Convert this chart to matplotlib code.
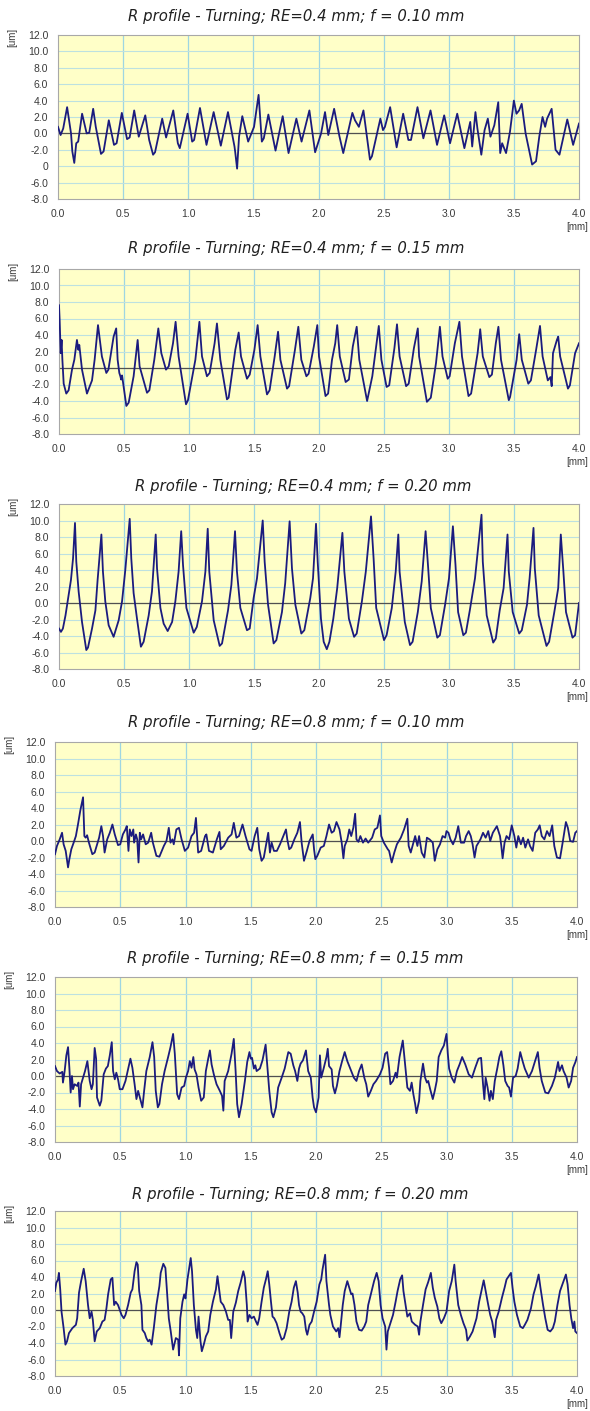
#draws six R profile charts (turning, RE / feed variants)
#profile values, x in mm, y in um

import numpy as np
import matplotlib.pyplot as plt

titles = ['R profile - Turning; RE=0.4 mm; f = 0.10 mm',
          'R profile - Turning; RE=0.4 mm; f = 0.15 mm',
          'R profile - Turning; RE=0.4 mm; f = 0.20 mm',
          'R profile - Turning; RE=0.8 mm; f = 0.10 mm',
          'R profile - Turning; RE=0.8 mm; f = 0.15 mm',
          'R profile - Turning; RE=0.8 mm; f = 0.20 mm']

x_ticks = [0.0, 0.5, 1.0, 1.5, 2.0, 2.5, 3.0, 3.5, 4.0]
y_ticks = [-8.0, -6.0, -4.0, -2.0, 0.0, 2.0, 4.0, 6.0, 8.0, 10.0, 12.0]

# RE=0.4 f=0.10
x1 = [0.0, 0.02, 0.04, 0.07, 0.10, 0.11, 0.125, 0.14, 0.155, 0.185,
      0.22, 0.24, 0.27, 0.29, 0.33, 0.35, 0.39, 0.43, 0.45, 0.49,
      0.53, 0.55, 0.585, 0.62, 0.67, 0.70, 0.73, 0.745, 0.80, 0.83,
      0.885, 0.92, 0.935, 0.995, 1.03, 1.045, 1.09, 1.14, 1.195, 1.25,
      1.305, 1.355, 1.36, 1.375, 1.39, 1.415, 1.46, 1.505, 1.54, 1.565,
      1.58, 1.615, 1.67, 1.725, 1.77, 1.83, 1.87, 1.93,
      1.974, 2.02, 2.05, 2.075, 2.12, 2.16, 2.19, 2.26, 2.28, 2.31,
      2.345, 2.395, 2.41, 2.475, 2.495, 2.51, 2.55, 2.60, 2.65, 2.69,
      2.71, 2.76, 2.805, 2.86, 2.91, 2.965, 3.01, 3.065, 3.12, 3.165,
      3.18, 3.205, 3.22, 3.25, 3.275, 3.30, 3.32, 3.35, 3.38, 3.395,
      3.41, 3.44, 3.47, 3.50, 3.52, 3.54, 3.56, 3.59, 3.64, 3.67,
      3.695, 3.72, 3.74, 3.755, 3.79, 3.82, 3.85, 3.91, 3.955, 4.0]
y1 = [0.8, -0.2, 0.6, 3.2, 0.0, -2.2, -3.6, -1.2, -1.0, 2.4,
      0.0, 0.1, 3.0, 0.8, -2.5, -2.2, 1.6, -1.4, -1.2, 2.5,
      -0.7, -0.5, 2.8, -0.4, 2.2, -0.8, -2.6, -2.3, 1.8, -0.5,
      2.8, -1.2, -1.8, 2.4, -1.0, -0.8, 3.1, -1.4, 2.6, -1.5,
      2.6, -1.6, -2.2, -4.3, -0.4, 2.1, -1.0, 0.8, 4.7, -1.0,
      -0.6, 2.3, -2.1, 2.1, -2.4, 1.8, -1.0, 2.8,
      -2.3, 0.0, 2.6, -0.2, 3.0, -0.3, -2.4, 2.5, 1.6, 0.8,
      2.8, -3.2, -2.8, 1.8, 0.4, 0.8, 3.2, -1.7, 2.4, -0.8,
      -0.8, 3.2, -0.6, 2.8, -1.4, 2.2, -1.2, 2.4, -1.8, 1.4,
      -1.6, 2.6, 0.6, -2.6, 0.4, 1.8, -0.4, 1.0, 3.8, -2.4,
      -1.2, -2.4, 0.2, 4.0, 2.4, 2.8, 3.6, 0.0, -3.8, -3.4,
      -0.4, 2.0, 0.8, 1.8, 3.0, -2.0, -2.6, 1.7, -1.4, 1.2]

# RE=0.4 f=0.15
x2 = [0.0, 0.005, 0.013, 0.02, 0.026, 0.036, 0.056, 0.074, 0.10, 0.118,
      0.138, 0.149, 0.156, 0.177, 0.215, 0.254, 0.274, 0.30, 0.33, 0.364,
      0.38, 0.42, 0.44, 0.451, 0.464, 0.472, 0.478, 0.485, 0.518, 0.536,
      0.574, 0.605, 0.62, 0.677, 0.695, 0.733, 0.764, 0.787, 0.823, 0.844,
      0.877, 0.897, 0.92, 0.977, 0.992, 1.049, 1.08, 1.10, 1.138, 1.159,
      1.197, 1.215, 1.241, 1.292, 1.305, 1.356, 1.382, 1.40, 1.446, 1.467,
      1.503, 1.528, 1.549, 1.60, 1.62, 1.659, 1.685, 1.703, 1.754, 1.77,
      1.815, 1.841, 1.864, 1.903, 1.92, 1.96, 1.987, 2.0, 2.05, 2.07,
      2.10, 2.125, 2.14, 2.16, 2.205, 2.23, 2.26, 2.29, 2.31, 2.37,
      2.41, 2.44, 2.46, 2.48, 2.52, 2.54, 2.58, 2.60, 2.62, 2.67,
      2.69, 2.73, 2.76, 2.77, 2.83, 2.86, 2.90, 2.93, 2.95, 2.99,
      3.005, 3.045, 3.08, 3.10, 3.15, 3.17, 3.22, 3.24, 3.26, 3.31,
      3.33, 3.36, 3.38, 3.40, 3.46, 3.47, 3.52, 3.54, 3.56, 3.61,
      3.63, 3.67, 3.70, 3.72, 3.76, 3.78, 3.79, 3.80, 3.83, 3.84,
      3.855, 3.915, 3.93, 3.97, 4.0]
y2 = [7.6, 5.8, 1.8, 3.4, 1.0, -1.9, -3.1, -2.7, -0.2, 1.0,
      3.4, 2.2, 2.8, -0.2, -3.1, -1.5, 1.0, 5.2, 1.4, -0.6,
      -0.2, 3.8, 4.8, 1.0, -0.6, -1.0, -1.4, -0.9, -4.6, -4.2,
      -1.0, 3.4, 0.2, -3.0, -2.7, 1.0, 4.8, 1.8, -0.2, 0.2,
      3.0, 5.6, 1.4, -4.4, -3.9, 1.0, 5.6, 1.4, -1.0, -0.6,
      3.0, 5.4, 1.0, -3.8, -3.6, 2.2, 4.3, 1.4, -1.3, -0.8,
      2.2, 5.2, 1.4, -3.2, -2.7, 1.4, 4.4, 1.0, -2.5, -2.2,
      2.2, 5.0, 1.0, -1.0, -0.7, 2.6, 5.2, 1.4, -3.4, -3.1,
      1.0, 3.0, 5.2, 1.4, -1.7, -1.4, 2.6, 5.0, 1.0, -4.0,
      -1.0, 2.6, 5.1, 1.0, -2.3, -2.1, 2.4, 5.3, 1.4, -2.2,
      -1.9, 2.4, 4.8, 1.4, -4.1, -3.6, 0.6, 5.0, 1.4, -1.3,
      -1.0, 3.0, 5.6, 1.4, -3.4, -3.1, 1.8, 4.7, 1.4, -1.1,
      -0.8, 3.0, 5.0, 1.0, -3.9, -3.5, 1.0, 4.1, 1.0, -1.9,
      -1.5, 2.2, 5.1, 1.4, -1.5, -1.1, -2.2, 1.8, 3.4, 3.8,
      1.4, -2.5, -2.1, 1.8, 3.0]

# RE=0.4 f=0.20
x3 = [0.0, 0.015, 0.03, 0.05, 0.074, 0.092, 0.108, 0.123, 0.133, 0.151,
      0.177, 0.21, 0.223, 0.254, 0.28, 0.297, 0.326, 0.338, 0.356, 0.382,
      0.42, 0.459, 0.485, 0.51, 0.544, 0.556, 0.574, 0.60, 0.63, 0.651,
      0.69, 0.715, 0.744, 0.754, 0.78, 0.805, 0.836, 0.87, 0.895, 0.92,
      0.94, 0.954, 0.98, 1.036, 1.06, 1.10, 1.126, 1.144, 1.156, 1.19,
      1.236, 1.254, 1.30, 1.326, 1.354, 1.369, 1.395, 1.446, 1.467, 1.497,
      1.523, 1.567, 1.582, 1.608, 1.651, 1.672, 1.715, 1.74, 1.774, 1.792,
      1.818, 1.864, 1.887, 1.933, 1.954, 1.977, 1.99, 2.015, 2.036, 2.06,
      2.08, 2.11, 2.14, 2.18, 2.195, 2.23, 2.27, 2.29, 2.33, 2.36,
      2.40, 2.42, 2.44, 2.50, 2.52, 2.56, 2.59, 2.61, 2.62, 2.66,
      2.70, 2.72, 2.76, 2.79, 2.82, 2.84, 2.86, 2.91, 2.93, 2.97,
      3.00, 3.03, 3.05, 3.07, 3.11, 3.13, 3.16, 3.20, 3.25, 3.26,
      3.29, 3.34, 3.36, 3.39, 3.42, 3.45, 3.46, 3.49, 3.54, 3.56,
      3.60, 3.62, 3.65, 3.66, 3.69, 3.75, 3.77, 3.81, 3.84, 3.86,
      3.88, 3.90, 3.95, 3.97, 4.0]
y3 = [-3.1, -3.5, -3.1, -1.5, 1.0, 2.8, 5.4, 9.7, 5.0, 1.4,
      -2.3, -5.7, -5.4, -3.1, -0.9, 2.8, 8.3, 3.8, 0.2, -2.7,
      -4.1, -2.1, 0.2, 4.0, 10.2, 5.4, 1.2, -1.9, -5.3, -4.7,
      -1.5, 1.4, 8.3, 4.2, -0.6, -2.5, -3.4, -2.3, 0.2, 3.8,
      8.7, 4.6, -0.6, -3.6, -2.9, 0.2, 3.8, 9.0, 3.8, -2.1,
      -5.2, -4.9, -0.9, 2.2, 8.7, 3.8, -0.6, -3.3, -3.1, 0.6,
      3.0, 10.0, 5.0, -0.2, -4.9, -4.5, -1.1, 2.4, 9.9, 4.2,
      -0.2, -3.7, -3.3, 0.6, 3.0, 9.6, 5.0, -1.9, -4.7, -5.6,
      -4.7, -1.9, 1.8, 8.5, 3.8, -1.9, -4.1, -3.7, 0.2, 3.8,
      10.5, 5.4, -0.6, -4.5, -3.9, -0.6, 3.8, 8.3, 3.8, -2.3,
      -5.1, -4.7, -1.1, 2.6, 8.7, 4.2, -0.6, -4.2, -3.9, -0.2,
      3.0, 9.3, 4.6, -1.1, -3.9, -3.6, -0.9, 3.0, 10.7, 5.0,
      -1.5, -4.8, -4.3, -0.9, 1.8, 8.3, 3.8, -1.1, -3.7, -3.3,
      -0.2, 3.0, 9.1, 4.2, -1.5, -5.2, -4.7, -1.1, 1.8, 8.3,
      3.8, -1.1, -4.2, -3.9, 0.0]

# RE=0.8 f=0.10
x4 = [0.0, 0.015, 0.036, 0.054, 0.066, 0.082, 0.10, 0.11, 0.125, 0.143,
      0.16, 0.176, 0.194, 0.215, 0.225, 0.235, 0.246, 0.26, 0.286, 0.304,
      0.338, 0.355, 0.368, 0.38, 0.40, 0.42, 0.44, 0.458, 0.483, 0.50,
      0.52, 0.54, 0.55, 0.563, 0.573, 0.586, 0.60, 0.606, 0.62, 0.63,
      0.64, 0.65, 0.66, 0.675, 0.695, 0.714, 0.737, 0.75, 0.777, 0.80,
      0.834, 0.854, 0.872, 0.885, 0.90, 0.91, 0.93, 0.95, 0.97, 0.995,
      1.02, 1.046, 1.066, 1.08, 1.097, 1.12, 1.15, 1.16, 1.18, 1.21,
      1.24, 1.26, 1.27, 1.294, 1.327, 1.353, 1.37, 1.39, 1.41, 1.437,
      1.46, 1.49, 1.506, 1.53, 1.55, 1.565, 1.583, 1.60, 1.62, 1.634,
      1.647, 1.66, 1.678, 1.70, 1.724, 1.75, 1.77, 1.78, 1.795, 1.81,
      1.834, 1.857, 1.877, 1.89, 1.908, 1.93, 1.95, 1.975, 1.985, 1.995,
      2.01, 2.036, 2.06, 2.08, 2.10, 2.12, 2.137, 2.157, 2.18, 2.197,
      2.21, 2.22, 2.24, 2.255, 2.27, 2.286, 2.30, 2.31, 2.325, 2.34,
      2.36, 2.38, 2.40, 2.43, 2.45, 2.47, 2.49, 2.50, 2.52, 2.55,
      2.56, 2.58, 2.60, 2.62, 2.65, 2.675, 2.70, 2.71, 2.726, 2.746,
      2.76, 2.777, 2.79, 2.81, 2.83, 2.85, 2.87, 2.895, 2.91, 2.93,
      2.95, 2.97, 2.99, 3.0, 3.015, 3.03, 3.05, 3.07, 3.09, 3.11,
      3.135, 3.15, 3.17, 3.186, 3.20, 3.215, 3.23, 3.26, 3.28, 3.30,
      3.32, 3.335, 3.355, 3.386, 3.41, 3.42, 3.43, 3.445, 3.46, 3.48,
      3.50, 3.52, 3.535, 3.55, 3.57, 3.587, 3.604, 3.625, 3.64, 3.66,
      3.68, 3.70, 3.714, 3.73, 3.75, 3.77, 3.79, 3.81, 3.826, 3.846,
      3.87, 3.89, 3.915, 3.93, 3.948, 3.97, 3.987, 4.0]
y4 = [-1.6, -0.6, 0.2, 1.0, -0.4, -1.2, -3.2, -2.2, -1.0, -0.2,
      0.6, 2.0, 3.7, 5.3, 0.6, 0.4, 0.7, -0.2, -1.6, -1.4,
      0.4, 1.8, 0.6, -1.4, 0.2, 1.0, 2.0, 0.8, -0.5, -0.4,
      0.8, 1.4, 1.8, -1.2, 1.4, 0.6, 1.4, -0.2, 0.8, 0.2,
      -2.6, 1.0, 0.2, 0.8, -0.4, -0.2, 1.0, -0.2, -1.8, -1.9,
      -0.6, 0.0, 1.6, -0.2, 0.2, -0.4, 1.4, 1.6, 0.2, -1.2,
      -0.8, 0.6, 1.0, 2.8, -1.4, -1.2, 0.6, 0.8, -1.2, -1.4,
      0.2, 1.1, -1.0, -0.6, 0.4, 0.8, 2.2, 0.4, 0.6, 2.0,
      0.6, -1.0, -1.2, 0.6, 1.6, -1.0, -2.4, -2.0, -0.2, 1.0,
      -1.4, -0.2, -1.2, -1.2, -0.4, 0.6, 1.4, 0.2, -1.0, -0.8,
      0.2, 1.0, 2.3, -0.2, -2.4, -1.2, 0.0, 0.8, -1.0, -2.2,
      -1.8, -0.8, -0.6, 0.6, 2.0, 1.0, 1.2, 2.3, 1.4, -0.2,
      -2.1, -0.6, 0.2, 1.4, 0.6, 1.6, 3.3, 0.2, -0.1, 0.6,
      -0.2, 0.3, -0.2, 0.4, 1.4, 1.6, 3.1, 0.6, -0.2, -1.0,
      -1.2, -2.6, -1.4, -0.4, 0.4, 1.4, 2.7, -0.6, -1.4, -0.2,
      0.6, -0.6, 0.6, -1.4, -2.0, 0.4, 0.2, -0.2, -2.4, -1.0,
      -0.4, 0.6, 0.4, 1.2, 1.0, 0.2, -0.4, 0.4, 1.8, -0.2,
      -0.2, 0.6, 1.2, 0.6, -0.4, -2.0, -0.6, 0.2, 1.0, 0.4,
      1.2, 0.0, 1.0, 1.8, 0.6, -0.6, -2.1, -0.2, 0.6, 0.2,
      1.9, 0.6, -0.8, 0.6, -0.4, 0.4, -0.8, 0.2, -0.6, -1.2,
      1.0, 1.4, 1.9, 0.6, 0.2, 1.2, 0.6, 1.9, -0.6, -2.0,
      -2.1, -0.2, 2.3, 1.6, 0.0, -0.1, 1.0, 1.2]

# RE=0.8 f=0.15
x5 = [0.0, 0.015, 0.036, 0.056, 0.061, 0.074, 0.087, 0.10, 0.11, 0.12,
      0.13, 0.138, 0.15, 0.17, 0.18, 0.19, 0.20, 0.215, 0.23, 0.248,
      0.266, 0.28, 0.29, 0.304, 0.315, 0.322, 0.343, 0.355, 0.373, 0.39,
      0.405, 0.42, 0.435, 0.445, 0.458, 0.47, 0.483, 0.496, 0.517, 0.54,
      0.568, 0.578, 0.593, 0.61, 0.624, 0.637, 0.65, 0.67, 0.683, 0.70,
      0.726, 0.747, 0.76, 0.772, 0.788, 0.80, 0.82, 0.84, 0.867, 0.885,
      0.905, 0.918, 0.936, 0.95, 0.97, 0.99, 1.003, 1.02, 1.033, 1.046,
      1.06, 1.07, 1.084, 1.10, 1.12, 1.14, 1.156, 1.174, 1.187, 1.20,
      1.217, 1.238, 1.263, 1.28, 1.29, 1.30, 1.327, 1.353, 1.37, 1.384,
      1.396, 1.41, 1.43, 1.455, 1.473, 1.49, 1.50, 1.51, 1.524, 1.535,
      1.545, 1.57, 1.59, 1.614, 1.63, 1.642, 1.66, 1.673, 1.693, 1.71,
      1.737, 1.76, 1.788, 1.806, 1.826, 1.84, 1.857, 1.87, 1.882, 1.90,
      1.923, 1.94, 1.96, 1.974, 1.985, 2.0, 2.02, 2.03, 2.04, 2.06,
      2.08, 2.09, 2.10, 2.12, 2.13, 2.145, 2.16, 2.18, 2.20, 2.22,
      2.24, 2.26, 2.29, 2.31, 2.33, 2.35, 2.37, 2.385, 2.40, 2.42,
      2.44, 2.46, 2.49, 2.51, 2.53, 2.545, 2.56, 2.57, 2.59, 2.61,
      2.62, 2.64, 2.65, 2.665, 2.68, 2.69, 2.70, 2.72, 2.733, 2.746,
      2.76, 2.77, 2.79, 2.80, 2.82, 2.836, 2.85, 2.86, 2.875, 2.895,
      2.91, 2.925, 2.94, 2.96, 2.98, 3.0, 3.01, 3.02, 3.04, 3.06,
      3.08, 3.10, 3.12, 3.144, 3.17, 3.195, 3.22, 3.245, 3.265, 3.28,
      3.29, 3.30, 3.315, 3.33, 3.34, 3.355, 3.37, 3.39, 3.405, 3.42,
      3.436, 3.45, 3.468, 3.48, 3.494, 3.51, 3.53, 3.545, 3.565, 3.585,
      3.60, 3.63, 3.655, 3.68, 3.70, 3.713, 3.73, 3.757, 3.78, 3.808,
      3.83, 3.855, 3.866, 3.885, 3.897, 3.92, 3.936, 3.955, 3.97, 3.988,
      4.0]
y5 = [1.2, 0.6, 0.3, 0.5, -0.8, 0.6, 2.5, 3.5, 1.0, -2.0,
      0.0, -1.6, -1.0, -1.2, -0.8, -3.7, -1.0, -0.2, 0.6, 1.8,
      -0.6, -1.6, -1.0, 3.4, 2.1, -2.6, -3.6, -3.0, 0.2, 0.9,
      1.2, 2.5, 4.1, 0.6, -0.4, 0.4, -0.4, -1.6, -1.6, -0.6,
      1.4, 2.1, 1.0, -1.0, -2.8, -1.8, -2.6, -3.8, -1.8, 0.6,
      2.3, 4.1, 2.3, -1.8, -3.8, -3.4, -1.0, 0.6, 2.3, 3.5,
      5.1, 2.7, -2.2, -2.8, -1.4, -1.2, -0.2, 0.6, 1.8, 1.0,
      2.3, 0.8, 0.2, -1.4, -3.0, -2.6, 0.6, 2.1, 3.1, 1.4,
      0.2, -1.0, -1.8, -2.4, -4.2, -0.6, 0.6, 2.7, 4.5, 0.6,
      -3.4, -5.0, -3.4, -0.6, 1.7, 2.9, 2.1, 2.2, 0.9, 1.3,
      0.6, 0.9, 1.9, 3.8, 0.6, -1.8, -4.4, -5.0, -3.8, -1.4,
      -0.2, 0.9, 2.9, 2.7, 1.3, 0.6, -0.6, 0.9, 1.5, 1.9,
      3.1, 0.6, -0.2, -2.6, -3.8, -4.4, -2.6, 2.5, -0.2, 1.0,
      2.3, 3.3, 1.2, 0.8, -1.2, -2.1, -1.2, 0.6, 1.8, 2.9,
      1.8, 1.0, -0.2, -0.6, 0.6, 1.4, -0.2, -1.0, -2.5, -1.8,
      -1.0, -0.6, 0.2, 1.0, 2.7, 2.9, 1.0, -1.0, -0.6, 0.4,
      -0.2, 2.3, 3.1, 4.3, 1.9, 0.2, -1.4, -1.8, -0.8, -2.2,
      -3.4, -4.5, -3.0, -0.6, 1.5, -0.2, -0.8, -0.6, -1.6, -2.8,
      -1.8, -0.6, 2.3, 3.1, 3.7, 5.1, 2.7, 0.9, -0.2, -0.8,
      0.6, 1.4, 2.3, 1.4, 0.2, -0.2, 1.0, 2.1, 2.2, -1.0,
      -2.8, -0.2, -1.4, -3.0, -1.8, -2.8, -0.6, 1.0, 2.3, 3.0,
      1.3, -0.6, -1.2, -1.4, -2.5, -0.2, 0.0, 0.9, 2.9, 1.7,
      0.9, -0.2, 0.6, 1.9, 2.9, 1.0, -0.6, -2.0, -2.1, -1.2,
      -0.2, 1.7, 0.6, 1.3, 0.6, -0.2, -1.4, -0.6, 1.0, 1.7,
      2.3]

# RE=0.8 f=0.20
x6 = [0.0, 0.01, 0.023, 0.03, 0.04, 0.05, 0.066, 0.08, 0.092, 0.107,
      0.133, 0.16, 0.17, 0.184, 0.20, 0.22, 0.235, 0.253, 0.266, 0.28,
      0.29, 0.304, 0.32, 0.343, 0.363, 0.38, 0.394, 0.407, 0.427, 0.44,
      0.453, 0.465, 0.483, 0.51, 0.527, 0.54, 0.56, 0.58, 0.593, 0.61,
      0.624, 0.634, 0.645, 0.662, 0.67, 0.688, 0.70, 0.714, 0.726, 0.74,
      0.757, 0.777, 0.80, 0.81, 0.83, 0.846, 0.86, 0.872, 0.887, 0.905,
      0.926, 0.944, 0.95, 0.96, 0.977, 0.99, 1.0, 1.015, 1.028, 1.04,
      1.05, 1.064, 1.08, 1.09, 1.10, 1.115, 1.125, 1.14, 1.156, 1.174,
      1.19, 1.21, 1.233, 1.245, 1.26, 1.27, 1.29, 1.31, 1.327, 1.34,
      1.35, 1.366, 1.386, 1.404, 1.422, 1.443, 1.455, 1.47, 1.476, 1.49,
      1.506, 1.524, 1.54, 1.552, 1.565, 1.583, 1.60, 1.616, 1.63, 1.642,
      1.655, 1.667, 1.68, 1.698, 1.72, 1.737, 1.754, 1.775, 1.795, 1.813,
      1.83, 1.846, 1.86, 1.87, 1.882, 1.895, 1.91, 1.923, 1.933, 1.95,
      1.967, 1.985, 2.005, 2.026, 2.04, 2.05, 2.07, 2.08, 2.10, 2.11,
      2.13, 2.155, 2.17, 2.18, 2.19, 2.205, 2.22, 2.24, 2.255, 2.27,
      2.28, 2.295, 2.31, 2.33, 2.35, 2.37, 2.385, 2.40, 2.43, 2.445,
      2.465, 2.48, 2.495, 2.51, 2.53, 2.54, 2.55, 2.57, 2.59, 2.61,
      2.625, 2.645, 2.66, 2.67, 2.69, 2.70, 2.72, 2.734, 2.76, 2.78,
      2.79, 2.80, 2.82, 2.84, 2.86, 2.88, 2.895, 2.91, 2.93, 2.945,
      2.96, 2.98, 3.0, 3.02, 3.04, 3.06, 3.07, 3.09, 3.11, 3.13,
      3.15, 3.16, 3.18, 3.20, 3.23, 3.25, 3.27, 3.285, 3.30, 3.32,
      3.335, 3.35, 3.37, 3.38, 3.40, 3.425, 3.445, 3.46, 3.494, 3.506,
      3.52, 3.54, 3.565, 3.585, 3.60, 3.62, 3.647, 3.667, 3.685, 3.706,
      3.72, 3.74, 3.757, 3.775, 3.795, 3.815, 3.83, 3.85, 3.87, 3.897,
      3.915, 3.928, 3.943, 3.956, 3.97, 3.98, 3.987, 4.0]
y6 = [2.3, 3.3, 3.7, 4.5, 2.5, -0.2, -2.2, -4.2, -3.8, -2.8,
      -2.2, -1.8, -1.0, 2.1, 3.5, 5.0, 3.5, 0.6, -1.0, -0.2,
      -1.2, -3.8, -2.6, -2.2, -1.4, -1.2, 0.2, 1.9, 3.7, 3.9,
      0.6, 1.0, 0.6, -0.6, -1.0, -0.6, 0.6, 2.1, 2.5, 4.7,
      5.8, 5.5, 2.3, 0.6, -2.4, -2.8, -3.4, -3.8, -3.6, -4.2,
      -2.2, 0.6, 2.9, 4.5, 5.6, 5.1, 1.9, -1.0, -2.6, -4.8,
      -3.4, -3.6, -5.5, -1.0, 1.0, 1.9, 1.4, 3.7, 5.1, 6.3,
      4.7, 0.6, -2.4, -3.4, -0.8, -3.8, -5.0, -4.2, -3.2, -2.6,
      -0.6, 1.0, 2.5, 4.1, 2.3, 1.0, 0.6, -0.2, -1.2, -1.2,
      -3.4, -0.2, 0.9, 2.3, 3.3, 4.7, 3.9, 0.6, -1.4, -0.6,
      -1.0, -0.8, -1.4, -1.8, -1.0, 1.0, 2.7, 3.7, 4.7, 3.1,
      1.0, -0.8, -1.0, -1.6, -2.8, -3.6, -3.4, -2.2, -0.2, 1.0,
      2.7, 3.5, 2.1, 0.6, -0.2, -0.4, -0.8, -2.4, -3.0, -1.8,
      -1.4, -0.2, 1.0, 3.1, 3.7, 4.9, 6.7, 3.5, 0.6, -0.6,
      -2.0, -2.6, -2.2, -3.3, -1.8, 0.6, 2.3, 3.5, 2.7, 1.9,
      2.0, 0.6, -1.4, -2.4, -2.5, -2.0, -1.4, 0.6, 2.5, 3.5,
      4.5, 3.5, 0.6, -1.0, -2.0, -4.8, -2.6, -1.6, -0.6, 1.0,
      2.3, 3.7, 4.2, 2.3, 0.2, -0.8, -0.4, -1.4, -1.8, -2.0,
      -3.0, -1.4, 0.6, 2.5, 3.4, 4.5, 2.7, 1.5, 0.4, -1.0,
      -1.6, -1.0, -0.2, 2.3, 3.5, 5.5, 3.5, 0.6, -0.6, -1.6,
      -2.4, -3.7, -3.2, -2.6, -1.0, 1.0, 2.5, 3.6, 2.3, 0.6,
      -0.6, -1.4, -3.3, -1.2, -0.2, 1.5, 2.7, 3.7, 4.5, 2.7,
      1.0, -0.6, -2.0, -2.2, -1.8, -1.2, 0.2, 1.9, 2.9, 4.3,
      2.7, 0.6, -1.0, -2.4, -2.6, -2.2, -1.4, 0.6, 2.3, 3.5,
      4.3, 3.1, 0.6, -1.0, -2.2, -1.4, -2.6, -2.8]

profiles = [(x1, y1), (x2, y2), (x3, y3), (x4, y4), (x5, y5), (x6, y6)]

# plot area of each panel in pixels: left, top, right, bottom
W, H = 590, 1411
boxes = [(58, 35, 579, 199), (59, 269, 579, 434), (59, 504, 579, 669),
         (55, 742, 577, 907), (55, 977, 577, 1142), (55, 1211, 577, 1376)]
title_x = [296, 296, 303, 296, 295, 300]
title_y = [17, 249, 486, 722, 958, 1194]

fig = plt.figure(figsize=(W / 100, H / 100), dpi=100)

for i in range(6):
    l, t, r, b = boxes[i]
    ax = fig.add_axes([l / W, 1 - b / H, (r - l) / W, (b - t) / H])
    ax.set_facecolor('#ffffc8')

    # grid: light blue verticals every 0.5 mm, faint horizontals every 2 um
    for xv in x_ticks[1:-1]:
        ax.axvline(xv, color='#9ed6e2', lw=0.9, zorder=1)
    for yv in y_ticks[1:-1]:
        ax.axhline(yv, color='#bde1e0', lw=0.8, zorder=1)
    ax.axhline(0, color='#505050', lw=0.9, zorder=2)

    px, py = profiles[i]
    ax.plot(px, py, color='#1b1b7e', lw=1.3, zorder=3)

    ax.set_xlim(0, 4)
    ax.set_ylim(-8, 12)
    ax.set_xticks(x_ticks)
    ax.set_yticks(y_ticks)
    ax.set_xticklabels(['%.1f' % v for v in x_ticks])
    ylabels = ['%.1f' % v for v in y_ticks]
    if i == 0:
        ylabels[2] = '0'   # the first chart shows "0" in place of -4.0
    ax.set_yticklabels(ylabels)
    ax.tick_params(length=0, labelsize=7.5, labelcolor='#3a3a3a')
    ax.tick_params(axis='y', pad=7)
    ax.tick_params(axis='x', pad=7)
    for lab in ax.get_xticklabels() + ax.get_yticklabels():
        lab.set_family('Liberation Sans')
    for s in ax.spines.values():
        s.set_color('#a8a8a8')
        s.set_linewidth(0.8)

    fig.text(title_x[i] / W, 1 - title_y[i] / H, titles[i], ha='center',
             va='center', style='italic', fontsize=10.7, color='#202020')
    fig.text((l - 46) / W, 1 - (t + 2) / H, '[um]', rotation=90, ha='center',
             va='center', fontsize=7, color='#3a3a3a', family='Liberation Sans')
    fig.text(588 / W, 1 - (b + 28) / H, '[mm]', ha='right', va='center',
             fontsize=7, color='#3a3a3a', family='Liberation Sans')

fig.savefig('out.png', dpi=100)
